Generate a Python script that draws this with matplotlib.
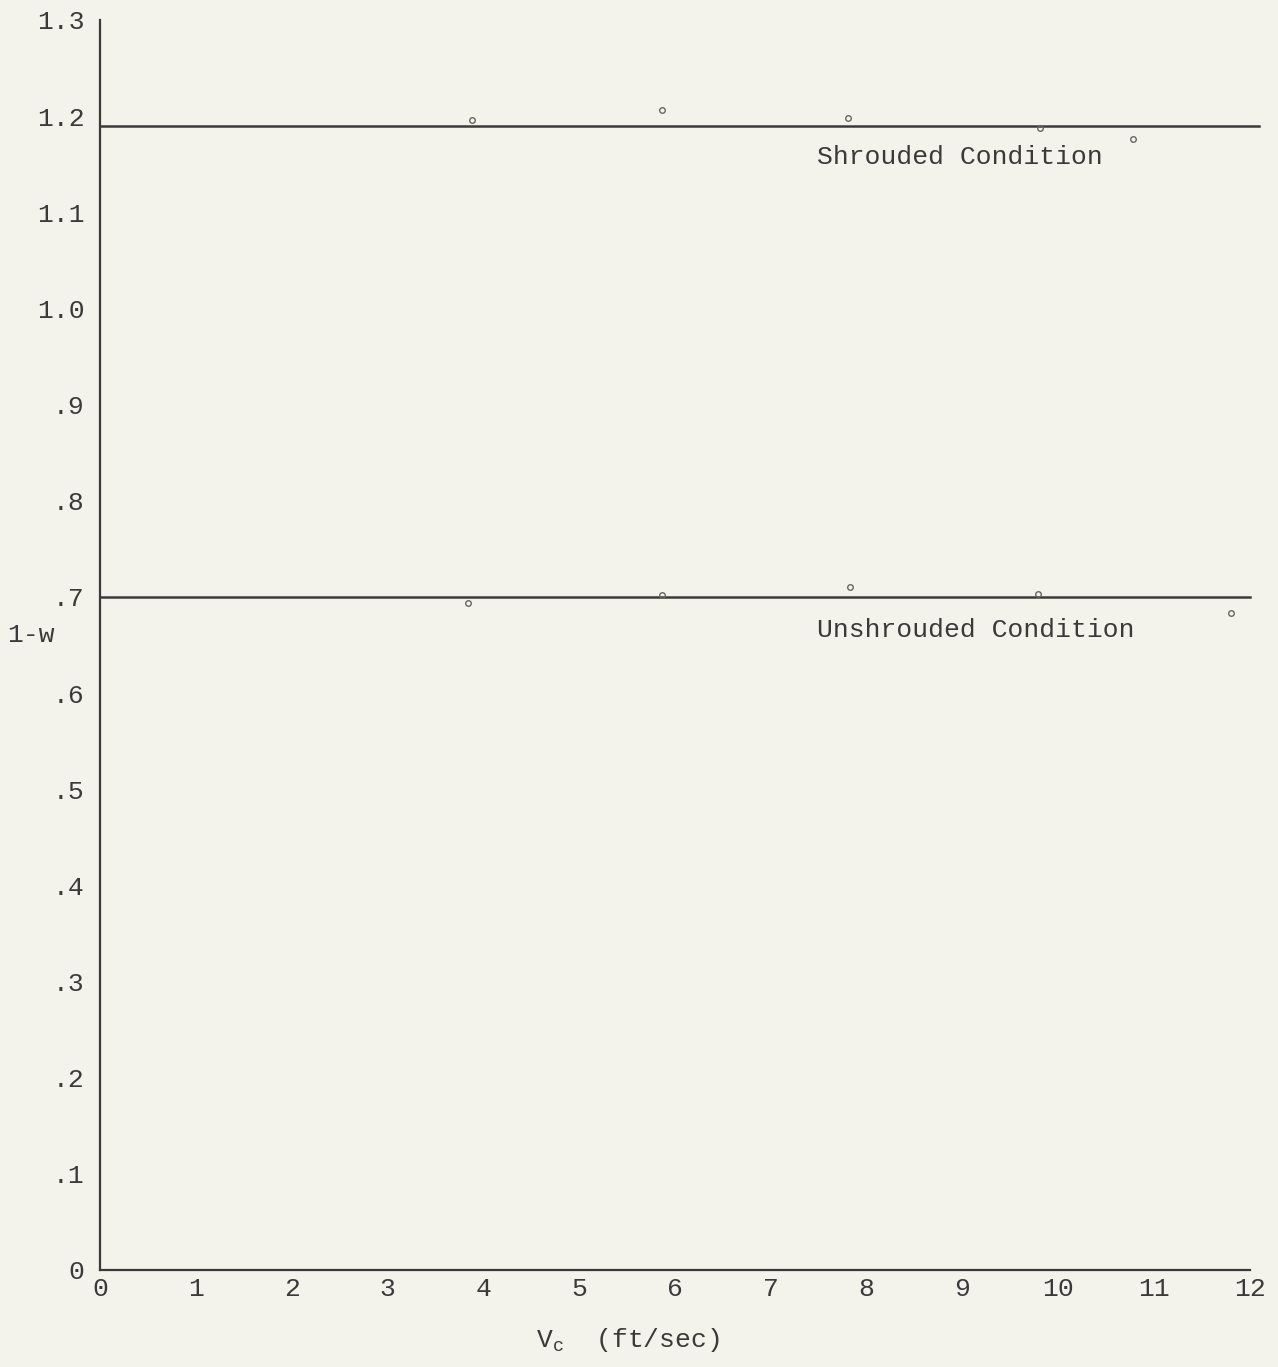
import matplotlib.pyplot as plt

plt.rcParams["font.family"] = ["Liberation Mono", "DejaVu Sans Mono"]
plt.rcParams["mathtext.fontset"] = "custom"
plt.rcParams["mathtext.rm"] = "Liberation Mono"
plt.rcParams["mathtext.it"] = "Liberation Mono"

PAPER = "#f3f3ec"
INK = "#3a3a3a"

# measured points (V_c in ft/sec, 1-w)
shrouded_x = [3.88, 5.87, 7.81, 9.81, 10.78]
shrouded_y = [1.196, 1.206, 1.198, 1.188, 1.176]
unshrouded_x = [3.84, 5.87, 7.83, 9.79, 11.8]
unshrouded_y = [0.694, 0.702, 0.710, 0.703, 0.683]

# faired mean lines
shrouded_line_x = [0, 12.1]
shrouded_level = 1.19
unshrouded_line_x = [0, 12.0]
unshrouded_level = 0.70

x_ticks = list(range(0, 13))
y_ticks = [0, 0.1, 0.2, 0.3, 0.4, 0.5, 0.6, 0.7, 0.8, 0.9, 1.0, 1.1, 1.2, 1.3]
y_tick_labels = ["0", ".1", ".2", ".3", ".4", ".5", ".6", ".7", ".8", ".9",
                 "1.0", "1.1", "1.2", "1.3"]

fig = plt.figure(figsize=(12.78, 13.67), dpi=100, facecolor=PAPER)
ax = fig.add_axes([0.0782, 0.0710, 0.8998, 0.9144])
ax.set_facecolor(PAPER)

ax.plot(shrouded_line_x, [shrouded_level] * 2, color=INK, lw=1.8, clip_on=False)
ax.plot(unshrouded_line_x, [unshrouded_level] * 2, color=INK, lw=1.8, clip_on=False)
ax.plot(shrouded_x, shrouded_y, "o", ms=4, mfc="none", mec="#666666", mew=1.0)
ax.plot(unshrouded_x, unshrouded_y, "o", ms=4, mfc="none", mec="#666666", mew=1.0)

ax.text(7.48, 1.157, "Shrouded Condition", fontsize=19, color=INK, va="center")
ax.text(7.48, 0.666, "Unshrouded Condition", fontsize=19, color=INK, va="center")

ax.set_xlim(0, 12)
ax.set_ylim(0, 1.3)
ax.set_xticks(x_ticks)
ax.set_yticks(y_ticks)
ax.set_yticklabels(y_tick_labels)
ax.tick_params(length=0, labelsize=19, labelcolor=INK)
ax.tick_params(axis="y", pad=11)
ax.tick_params(axis="x", pad=5)

for side in ["top", "right"]:
    ax.spines[side].set_visible(False)
for side in ["left", "bottom"]:
    ax.spines[side].set_color(INK)
    ax.spines[side].set_linewidth(1.6)

ax.set_xlabel(r"V$_{\rm c}$  (ft/sec)", fontsize=19, color=INK, va="center")
ax.xaxis.set_label_coords(0.459, -0.056)
ax.set_ylabel("1-w", rotation=0, fontsize=19, color=INK, ha="left", va="center")
ax.yaxis.set_label_coords(-0.081, 0.508)

fig.savefig("out.png", dpi=100, facecolor=PAPER)
